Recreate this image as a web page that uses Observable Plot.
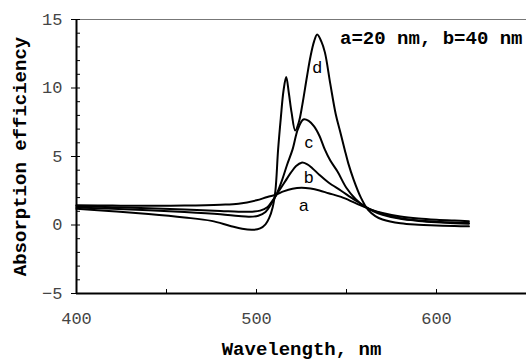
<!DOCTYPE html>
<html><head><meta charset="utf-8">
<script src="https://cdn.jsdelivr.net/npm/d3@7"></script>
<script src="https://cdn.jsdelivr.net/npm/@observablehq/plot@0.6"></script>
<style>body{margin:0;background:#fff}</style>
</head><body><div id="chart"></div>
<script>
// Curve a
const aWl  = [400, 420, 440, 460, 480, 490, 500, 506, 511, 515, 520, 525, 530, 535, 540, 547, 555, 564, 570, 580, 590, 600, 610, 618];
const aVal = [1.45, 1.42, 1.4, 1.42, 1.48, 1.55, 1.8, 2.05, 2.22, 2.45, 2.65, 2.72, 2.66, 2.52, 2.32, 2.05, 1.6, 1.1, 0.88, 0.62, 0.47, 0.38, 0.32, 0.28];
// Curve b
const bWl  = [400, 420, 440, 460, 480, 490, 497, 502, 506, 509, 511, 513, 516, 519, 522, 525, 528, 531, 535, 540, 547, 555, 564, 570, 580, 590, 600, 610, 618];
const bVal = [1.38, 1.3, 1.22, 1.13, 1.03, 0.97, 0.97, 1.05, 1.3, 1.8, 2.2, 2.6, 3.2, 3.8, 4.3, 4.55, 4.45, 4.15, 3.65, 3.1, 2.5, 1.8, 1.1, 0.82, 0.5, 0.33, 0.24, 0.18, 0.15];
// Curve c
const cWl  = [400, 420, 440, 460, 480, 490, 496, 501, 505, 508, 511, 514, 517, 520, 523, 526, 529, 532, 535, 538, 541, 545, 550, 555, 560, 565, 570, 580, 590, 600, 610, 618];
const cVal = [1.28, 1.18, 1.08, 0.95, 0.78, 0.65, 0.6, 0.68, 0.95, 1.5, 2.2, 3.2, 4.4, 5.5, 7.0, 7.7, 7.6, 7.2, 6.5, 5.5, 4.7, 3.9, 2.7, 1.9, 1.35, 1.0, 0.75, 0.45, 0.3, 0.2, 0.13, 0.1];
// Curve d
const dWl  = [400, 420, 440, 460, 475, 485, 492, 498, 502, 505, 507, 509, 510.5, 512, 513.5, 515, 516.5, 518, 519.5, 521.5, 523.5, 525.5, 528, 530, 532, 533.7, 536, 538, 541, 544, 546.5, 549, 551, 554, 558, 562, 566, 570, 580, 590, 600, 610, 618];
const dVal = [1.18, 1.0, 0.8, 0.55, 0.3, -0.05, -0.28, -0.35, -0.25, 0.05, 0.5, 1.3, 2.5, 5.5, 7.8, 9.8, 10.8, 9.6, 8.2, 6.9, 7.5, 8.8, 10.8, 12.3, 13.4, 13.9, 13.4, 12.6, 10.3, 8.1, 6.8, 5.5, 4.5, 3.3, 2.0, 1.1, 0.65, 0.4, 0.12, 0.02, -0.03, -0.08, -0.1];

const curveNames = ["a", "b", "c", "d"];
const labelX = [526.3, 529, 529, 533.7];
const labelY = [1.4, 3.45, 6.0, 11.5];

const xTickLabels = [400, 500, 600];
const xTickMarks = [400, 450, 500, 550, 600];
const yTickLabels = [-5, 0, 5, 10, 15];
const yMinorTicks = [-4, -3, -2, -1, 1, 2, 3, 4, 6, 7, 8, 9, 11, 12, 13, 14];

const xTitle = "Wavelength, nm";
const yTitle = "Absorption efficiency";
const note = "a=20 nm, b=40 nm";

const W = 527, H = 362, mL = 76, mR = 1, mT = 19, mB = 69;
const innerW = W - mL - mR, innerH = H - mT - mB;

const wls = [aWl, bWl, cWl, dWl];
const vals = [aVal, bVal, cVal, dVal];
const rows = curveNames.flatMap((n, i) => wls[i].map((w, j) => ({curve: n, wl: w, v: vals[i][j]})));
const labels = curveNames.map((n, i) => ({name: n, x: labelX[i], y: labelY[i]}));

const mono = "'Liberation Mono', 'Courier New', monospace";

const chart = Plot.plot({
  width: W, height: H,
  marginLeft: mL, marginRight: mR, marginTop: mT, marginBottom: mB,
  x: {domain: [400, 650]},
  y: {domain: [-5, 15]},
  style: {fontFamily: mono, background: "#fff"},
  marks: [
    Plot.ruleY([15], {stroke: "#777", strokeWidth: 1}),
    Plot.lineY(rows, {x: "wl", y: "v", z: "curve", stroke: "#000", strokeWidth: 2, curve: "catmull-rom"}),
    Plot.ruleX([400], {stroke: "#000", strokeWidth: 2}),
    Plot.ruleY([-5], {stroke: "#000", strokeWidth: 2}),
    Plot.tickX(xTickMarks, {x: d => d, insetTop: innerH - 4, stroke: "#000", strokeWidth: 1}),
    Plot.tickY(yMinorTicks, {y: d => d, insetRight: innerW - 4, stroke: "#000", strokeWidth: 1}),
    Plot.tickY(yTickLabels, {y: d => d, insetLeft: -5, insetRight: innerW - 4, stroke: "#000", strokeWidth: 1}),
    Plot.axisX(xTickLabels, {tickSize: 0, tickPadding: 18, fontSize: 17, fontFamily: mono, fill: "#444", label: null}),
    Plot.axisY(yTickLabels, {tickSize: 0, tickPadding: 14, fontSize: 17, fontFamily: mono, fill: "#444", label: null}),
    Plot.text(labels, {x: "x", y: "y", text: "name", fontSize: 17, fontFamily: "'Liberation Sans', Arial, sans-serif", fill: "#000"}),
    Plot.text([note], {frameAnchor: "top-right", text: d => d, dx: -4, dy: 18, textAnchor: "end", lineAnchor: "middle", fontSize: 19, fontWeight: "bold", fontFamily: mono, fill: "#000"}),
    Plot.text([xTitle], {frameAnchor: "bottom", text: d => d, dy: 55, textAnchor: "middle", lineAnchor: "middle", fontSize: 19, fontWeight: "bold", fontFamily: mono, fill: "#000"}),
    Plot.text([yTitle], {frameAnchor: "left", text: d => d, dx: -57, rotate: -90, textAnchor: "middle", lineAnchor: "middle", fontSize: 19, fontWeight: "bold", fontFamily: mono, fill: "#000"})
  ]
});
document.getElementById("chart").appendChild(chart);
</script>
</body></html>
